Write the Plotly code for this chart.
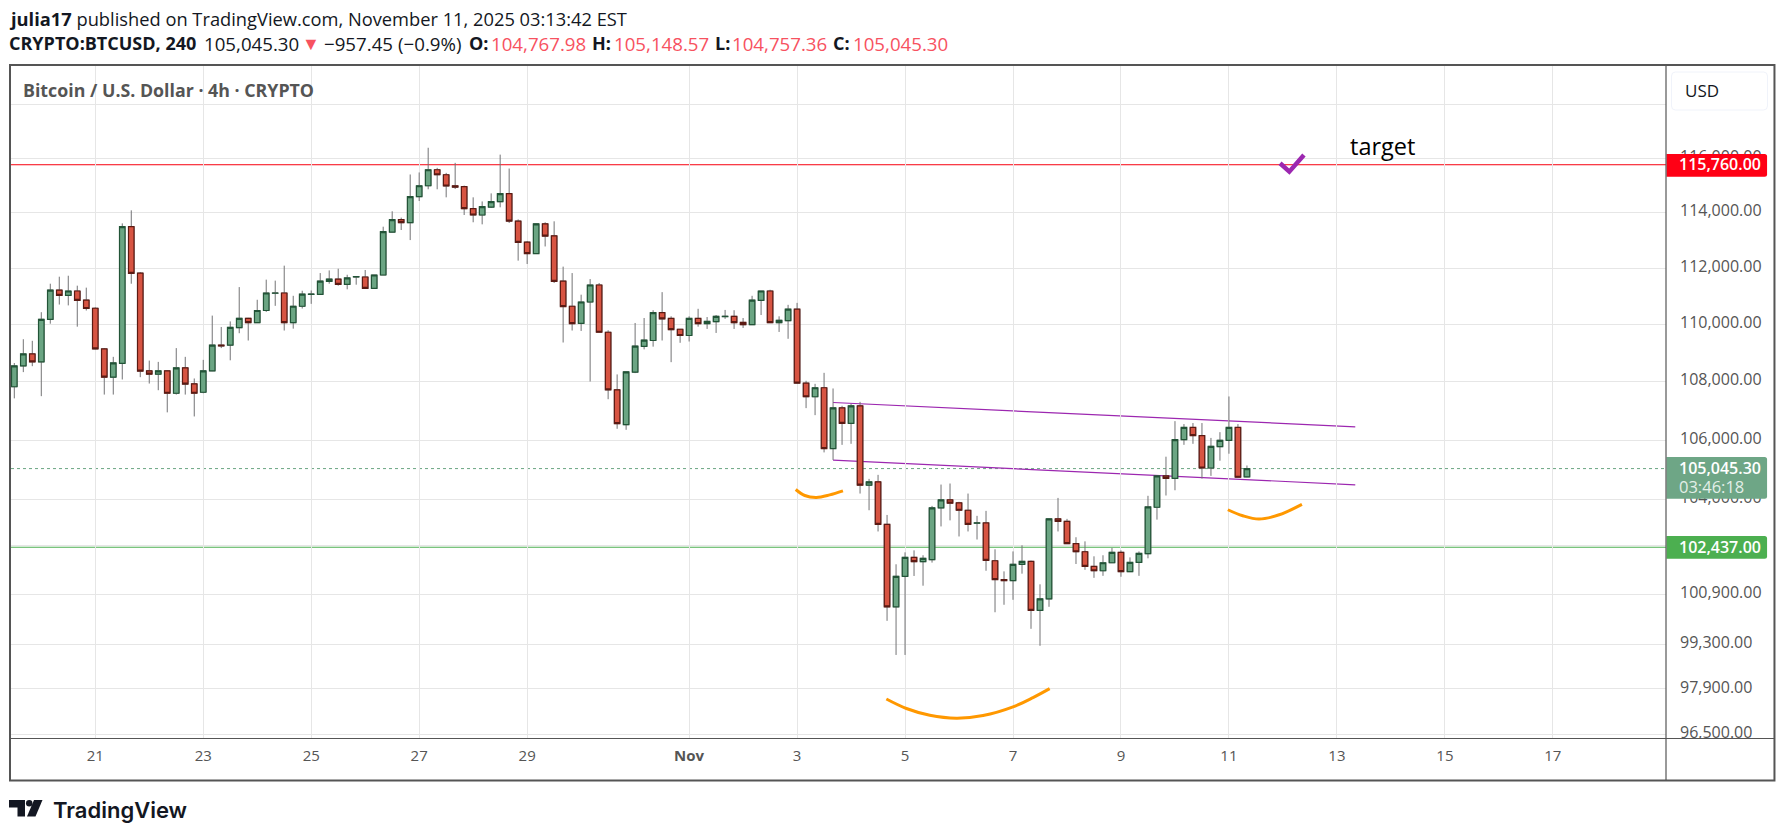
import math
import pandas as pd
import numpy as np
import plotly.graph_objects as go

# BTCUSD 4h candles
times = pd.date_range('2025-10-19 12:00', periods=138, freq='4h')

opens = [107830, 108550, 108965, 108690, 110180, 111215, 111025, 111180, 110860, 110570,
         109140, 108160, 108640, 113490, 111820, 108380, 108265, 108380, 107605, 108485,
         107930, 107640, 108380, 109275, 109275, 109885, 110215, 110060, 110490, 111100,
         111110, 110060, 110640, 111060, 111060, 111525, 111605, 111415, 111680, 111680,
         111275, 111750, 113295, 113745, 113635, 114585, 114985, 115575, 115390, 114985,
         114950, 114145, 113915, 114205, 114400, 114695, 113695, 112930, 112520, 113595,
         113160, 111535, 110640, 110035, 110790, 111395, 109725, 107725, 106530, 108335,
         109230, 109435, 110415, 110210, 109830, 109610, 110210, 110025, 110095, 110275,
         110285, 110070, 109990, 110845, 111180, 110060, 110130, 110535, 107955, 107485,
         107795, 105720, 107105, 106575, 107175, 104490, 104600, 103190, 100505, 101490,
         102105, 101965, 102030, 103735, 104000, 103900, 103655, 103225, 103235, 101995,
         101385, 101350, 101880, 101975, 100390, 100760, 103370, 103290, 102555, 102290,
         101810, 101670, 101930, 102270, 101640, 101940, 102225, 103755, 104800, 104720,
         106020, 106435, 106160, 105065, 105785, 106000, 106435, 104767.98]
highs = [108650, 109480, 109425, 110430, 111440, 111690, 111725, 111370, 111300, 110600,
         109170, 108865, 113610, 114085, 111855, 108735, 108690, 108400, 109170, 108865,
         108115, 108760, 110310, 109910, 110105, 111320, 110230, 110870, 111585, 111550,
         112085, 111010, 111190, 111200, 111820, 111915, 111975, 111760, 111715, 111930,
         111750, 113490, 114050, 113820, 115400, 115475, 116390, 115645, 115460, 115830,
         114990, 114560, 114410, 114705, 116135, 115620, 113755, 112970, 113610, 113650,
         113685, 112050, 111820, 111050, 111605, 111465, 109795, 108255, 108345, 110050,
         110225, 110500, 111140, 110285, 109830, 110285, 110550, 110260, 110330, 110510,
         110500, 110225, 111010, 111180, 111225, 110285, 110690, 110760, 108035, 107930,
         108310, 107770, 107175, 107240, 107310, 104700, 104835, 103500, 101880, 102270,
         102335, 102175, 103800, 104510, 104545, 103935, 104210, 103470, 103635, 102370,
         101650, 102300, 102500, 102000, 101230, 103370, 104065, 103370, 102765, 102630,
         102140, 102175, 102415, 102335, 102105, 102300, 104135, 104800, 105445, 106650,
         106550, 106585, 106585, 106080, 106275, 107495, 106550, 105148.57]
lows = [107430, 108335, 108540, 107505, 110025, 110700, 110670, 109920, 110490, 109130,
        107560, 107560, 108080, 111440, 108160, 107940, 107710, 106950, 107560, 107560,
        106810, 107605, 108370, 109170, 108745, 109690, 109435, 110050, 110440, 110655,
        109785, 109850, 110560, 110725, 111060, 111440, 111370, 111240, 111405, 111270,
        111270, 111750, 113290, 113370, 113005, 114425, 114855, 114855, 114560, 114865,
        113915, 113650, 113575, 114170, 114195, 113625, 112265, 112145, 112520, 112775,
        111465, 109365, 109785, 109770, 108010, 109715, 107400, 106390, 106355, 108300,
        109125, 109220, 109435, 108680, 109355, 109400, 109920, 109840, 109700, 110195,
        109840, 109875, 109990, 110330, 110055, 109735, 109495, 107955, 107095, 106855,
        105590, 105335, 105845, 105880, 104210, 103655, 102955, 100055, 98970, 98970,
        101500, 101185, 101935, 103120, 103320, 102790, 102955, 102690, 101670, 100330,
        100570, 100730, 101575, 99800, 99260, 100505, 102955, 102555, 101890, 101700,
        101440, 101505, 101930, 101475, 101640, 101505, 102075, 103345, 104145, 104320,
        105845, 105880, 104710, 104800, 105310, 105545, 104755, 104757.36]
closes = [108550, 108965, 108690, 110180, 111215, 111025, 111180, 110845, 110560, 109140,
          108160, 108655, 113490, 111810, 108370, 108265, 108380, 107605, 108485, 107920,
          107605, 108380, 109275, 109250, 109895, 110215, 110060, 110490, 111110, 111110,
          110060, 110640, 111070, 111070, 111535, 111605, 111415, 111645, 111690, 111275,
          111750, 113310, 113745, 113635, 114585, 114985, 115575, 115390, 114975, 114935,
          114145, 113915, 114220, 114400, 114695, 113695, 112920, 112520, 113595, 113150,
          111525, 110630, 110025, 110790, 111395, 109725, 107725, 106565, 108345, 109240,
          109450, 110415, 110195, 109815, 109610, 110210, 110025, 110105, 110285, 110285,
          110060, 109990, 110855, 111180, 110060, 110145, 110535, 107955, 107485, 107795,
          105720, 107105, 106575, 107175, 104490, 104600, 103190, 100505, 101490, 102105,
          101965, 102075, 103735, 104000, 103890, 103655, 103190, 103235, 102010, 101385,
          101350, 101880, 101975, 100390, 100760, 103370, 103290, 102555, 102290, 101810,
          101670, 101930, 102270, 101640, 101940, 102235, 103765, 104800, 104720, 106020,
          106435, 106160, 105065, 105795, 106000, 106435, 104755, 105045.30]

# axis ticks (118,000 has a grid line but its label sits under the USD button)
price_ticks = [118000, 116000, 114000, 112000, 110000, 108000, 106000, 104000,
               102500, 100900, 99300, 97900, 96500]
price_labels = [''] + [f'{v:,.2f}' for v in price_ticks[1:]]
date_ticks = ['2025-10-21', '2025-10-23', '2025-10-25', '2025-10-27', '2025-10-29', '2025-11-01',
              '2025-11-03', '2025-11-05', '2025-11-07', '2025-11-09', '2025-11-11', '2025-11-13',
              '2025-11-15', '2025-11-17']
date_labels = ['21', '23', '25', '27', '29', '<b>Nov</b>', '3', '5', '7', '9', '11', '13', '15', '17']

# drawings on the chart
target_level = 115760
support_level = 102437
last_price = 105045.30
channel_x = ['2025-11-03 16:00', '2025-11-13 08:10']
channel_top = [107287, 106457]
channel_bottom = [105329, 104502]
arc1_x = ['2025-11-02 23:24', '2025-11-03 03:24', '2025-11-03 08:36', '2025-11-03 14:30', '2025-11-03 20:24']
arc1_y = [104345, 104145, 104080, 104165, 104300]
arc2_x = ['2025-11-04 15:42', '2025-11-05 00:36', '2025-11-05 11:00', '2025-11-05 22:48',
          '2025-11-06 10:42', '2025-11-07 00:00', '2025-11-07 08:54', '2025-11-07 16:18']
arc2_y = [97585, 97290, 97080, 96990, 97070, 97340, 97630, 97910]
arc3_x = ['2025-11-10 23:30', '2025-11-11 06:10', '2025-11-11 13:22', '2025-11-11 22:21', '2025-11-12 08:27']
arc3_y = [103672, 103472, 103363, 103505, 103848]
check_x = ['2025-11-11 22:43', '2025-11-12 02:50', '2025-11-12 09:20']
check_y = [115815, 115505, 116122]

# page layout in pixels
W, H = 1785, 836
L, R, T, B = 11, 1666.5, 66, 738
FONT = 'Open Sans'
GREY = '#555555'
DARK = '#131722'
RED = '#F7525F'


def px(x):
    return (x - L) / (R - L)


def py(y):
    return (B - y) / (B - T)


def rect(x0, y0, x1, y1, **kw):
    return dict(type='rect', xref='paper', yref='paper', x0=px(x0), x1=px(x1), y0=py(y0), y1=py(y1), layer='above', **kw)


def pill(x0, y0, x1, y1, color, r=2.5):
    # right corners rounded like the TradingView price labels
    p = (f'M{px(x0)},{py(y0)} L{px(x1 - r)},{py(y0)} Q{px(x1)},{py(y0)} {px(x1)},{py(y0 + r)} '
         f'L{px(x1)},{py(y1 - r)} Q{px(x1)},{py(y1)} {px(x1 - r)},{py(y1)} L{px(x0)},{py(y1)} Z')
    return dict(type='path', xref='paper', yref='paper', path=p, fillcolor=color, line=dict(width=0), layer='above')


def text(x, y, s, size=16, color=GREY, anchor='left', family=FONT, **kw):
    return dict(xref='paper', yref='paper', x=px(x), y=py(y), text=s, showarrow=False, xanchor=anchor,
                yanchor='middle', align='left', borderpad=0, borderwidth=0,
                font=dict(family=family, size=size, color=color, **kw))


top_edge = np.maximum(opens, closes)
low_edge = np.minimum(opens, closes)

fig = go.Figure()
# grey wicks first, bodies without wicks on top
fig.add_trace(go.Candlestick(x=times, open=opens, high=highs, low=lows, close=closes, whiskerwidth=0,
                             increasing=dict(line=dict(color='#737375', width=1), fillcolor='#6BA583'),
                             decreasing=dict(line=dict(color='#737375', width=1), fillcolor='#D75442')))
fig.add_trace(go.Candlestick(x=times, open=opens, high=top_edge, low=low_edge, close=closes, whiskerwidth=0,
                             increasing=dict(line=dict(color='#225437', width=1.2), fillcolor='#6BA583'),
                             decreasing=dict(line=dict(color='#5B1A13', width=1.2), fillcolor='#D75442')))

for ax, ay in [(arc1_x, arc1_y), (arc2_x, arc2_y), (arc3_x, arc3_y)]:
    fig.add_trace(go.Scatter(x=ax, y=ay, mode='lines', line=dict(color='#FF9800', width=3, shape='spline')))
fig.add_trace(go.Scatter(x=check_x, y=check_y, mode='lines', line=dict(color='#9C27B0', width=4.5)))

shapes = []
for level, color, dash in [(last_price, '#6BA583', 'dot'), (target_level, '#F7000F', 'solid'), (support_level, '#4CAF50', 'solid')]:
    shapes.append(dict(type='line', xref='paper', yref='y', x0=0, x1=1, y0=level, y1=level, layer='below',
                       line=dict(color=color, width=1, dash=dash)))
for ys in (channel_top, channel_bottom):
    shapes.append(dict(type='line', xref='x', yref='y', x0=channel_x[0], x1=channel_x[1], y0=ys[0], y1=ys[1],
                       layer='below', line=dict(color='#9C27B0', width=1.2)))

# cover of the price scale under the time scale
shapes.append(rect(1667, 738.5, 1774, 780, fillcolor='white', line=dict(width=0)))
# price labels
shapes.append(pill(1667, 154, 1767.6, 176.7, '#FF0015'))
shapes.append(pill(1667, 536, 1767.6, 558.7, '#4CAF50'))
shapes.append(pill(1667, 457, 1767.6, 498.7, '#6EA686'))
# USD button
shapes.append(dict(type='path', xref='paper', yref='paper', layer='above', fillcolor='white', line=dict(color='#F0F3FA', width=1),
                   path=(f'M{px(1676)},{py(72)} L{px(1764)},{py(72)} Q{px(1768)},{py(72)} {px(1768)},{py(76)} '
                         f'L{px(1768)},{py(106)} Q{px(1768)},{py(110)} {px(1764)},{py(110)} L{px(1676)},{py(110)} '
                         f'Q{px(1672)},{py(110)} {px(1672)},{py(106)} L{px(1672)},{py(76)} Q{px(1672)},{py(72)} {px(1676)},{py(72)} Z')))
# frame and scale separators
shapes.append(rect(10, 65, 1775, 780.5, line=dict(color=GREY, width=2)))
shapes.append(dict(type='line', xref='paper', yref='paper', x0=px(1666.5), x1=px(1666.5), y0=py(65), y1=py(780), layer='above',
                   line=dict(color=GREY, width=1.2)))
shapes.append(dict(type='line', xref='paper', yref='paper', x0=px(10), x1=px(1775), y0=py(738.5), y1=py(738.5), layer='above',
                   line=dict(color=GREY, width=1.2)))
# logo mark
shapes.append(dict(type='path', xref='paper', yref='paper', fillcolor=DARK, line=dict(width=0), layer='above',
                   path=(f'M{px(9)},{py(800)} L{px(25)},{py(800)} L{px(25)},{py(816.5)} L{px(17.5)},{py(816.5)} '
                         f'L{px(17.5)},{py(807.5)} L{px(9)},{py(807.5)} Z')))
shapes.append(dict(type='circle', xref='paper', yref='paper', fillcolor=DARK, line=dict(width=0), layer='above',
                   x0=px(26), x1=px(32.5), y0=py(800), y1=py(806.5)))
shapes.append(dict(type='path', xref='paper', yref='paper', fillcolor=DARK, line=dict(width=0), layer='above',
                   path=(f'M{px(34)},{py(800)} L{px(42.5)},{py(800)} L{px(35.5)},{py(816.5)} L{px(27)},{py(816.5)} Z')))

annotations = [
    text(9, 18.5, '<b>julia17</b> published on TradingView.com, November 11, 2025 03:13:42 EST', size=18.3, color=DARK),
    text(23, 90, '<b>Bitcoin / U.S. Dollar · 4h · CRYPTO</b>', size=17.8, color=GREY),
    text(1686, 91, 'USD', size=17, color=DARK),
    text(1679.5, 164, '115,760.00', size=16, color='white', weight=600),
    text(1679.5, 546.5, '102,437.00', size=16, color='white', weight=600),
    text(1679.5, 467.5, '105,045.30', size=16, color='white', weight=600),
    text(1679.5, 486, '03:46:18', size=16.5, color='#E3EFE8'),
    text(1350, 146, 'target', size=23.5, color='#000000'),
    text(53, 810, 'TradingView', size=22, color=DARK, family='Inter', weight=600),
]
# second header line: every piece at its own place
header_pieces = [(9, '<b>CRYPTO:BTCUSD, 240</b>', DARK, 18), (204, '105,045.30', DARK, 18.7), (302, '▼', RED, 18),
                 (324, '−957.45', DARK, 18.7), (398, '(−0.9%)', DARK, 18.7),
                 (469, '<b>O:</b>', DARK, 18), (491, '104,767.98', RED, 18.7),
                 (592, '<b>H:</b>', DARK, 18), (614, '105,148.57', RED, 18.7),
                 (715, '<b>L:</b>', DARK, 18), (732, '104,757.36', RED, 18.7),
                 (833, '<b>C:</b>', DARK, 18), (853, '105,045.30', RED, 18.7)]
for hx, hs, hc, hsize in header_pieces:
    annotations.append(text(hx, 43.3, hs, size=hsize, color=hc))

fig.update_layout(
    width=W, height=H, margin=dict(l=L, r=W - R, t=T, b=H - B),
    paper_bgcolor='white', plot_bgcolor='white', showlegend=False,
    font=dict(family=FONT, color=GREY), boxmode='overlay', boxgap=0.12,
    shapes=shapes, annotations=annotations,
    xaxis=dict(type='date', range=['2025-10-19 10:32', '2025-11-19 02:18'], rangeslider=dict(visible=False),
               tickvals=date_ticks, ticktext=date_labels, ticks='', tickangle=0, tickfont=dict(size=15, color=GREY),
               showgrid=True, gridcolor='#E6E6E6', gridwidth=1, zeroline=False, showline=False, ticklabelstandoff=7),
    yaxis=dict(type='log', range=[math.log10(96377), math.log10(119472)], side='right',
               tickvals=price_ticks, ticktext=price_labels, tickfont=dict(size=16, color=GREY), ticklabelshift=-2,
               showgrid=True, gridcolor='#E6E6E6', gridwidth=1, zeroline=False, showline=False, ticks='', ticklabelstandoff=13),
)

fig.write_html('out.html', config=dict(displayModeBar=False), post_script="document.body.style.margin='0';")
